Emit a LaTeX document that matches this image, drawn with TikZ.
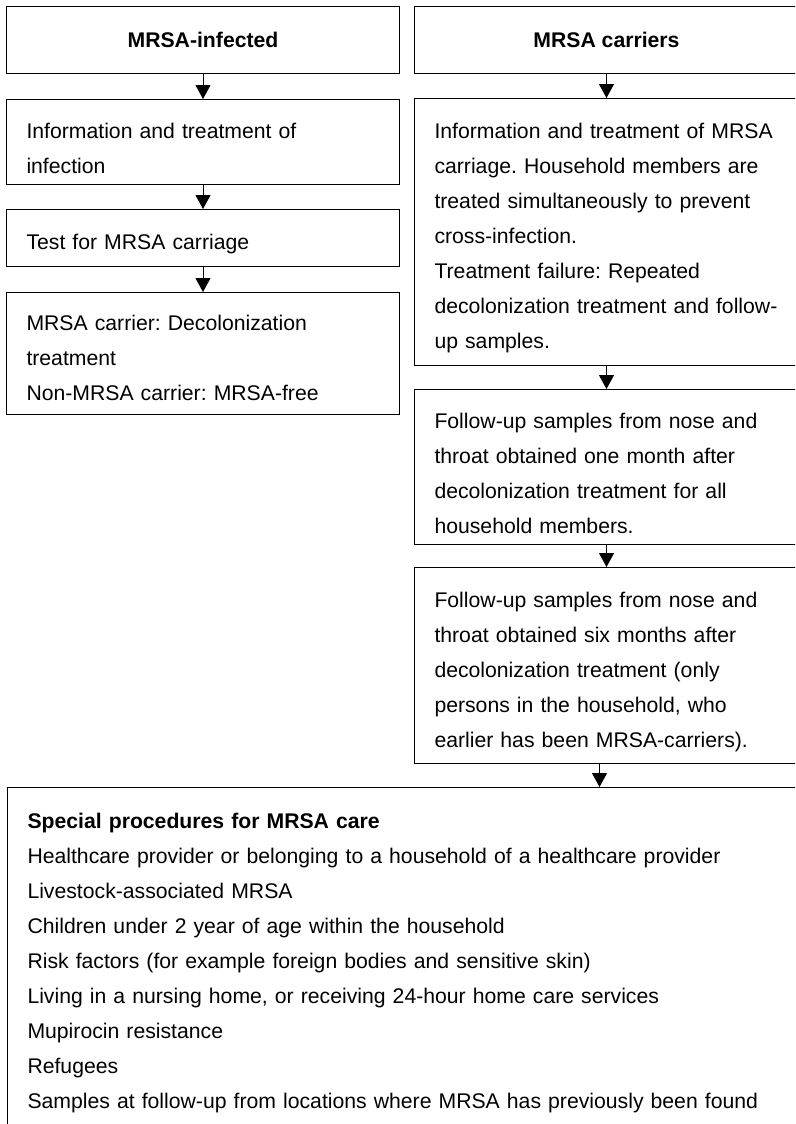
\documentclass[tikz,border=0pt]{standalone}
\usepackage{fontspec}
\setmainfont{Liberation Sans}
\usetikzlibrary{arrows.meta}
\frenchspacing

\begin{document}
\begin{tikzpicture}[x=1pt, y=-1pt,
                    every node/.style={font=\fontsize{21.2}{35}\selectfont},
                    head/.style={draw, line width=1pt, anchor=north west, inner sep=0pt,
                                 minimum height=67pt, font=\fontsize{21.2}{35}\selectfont\bfseries},
                    box/.style={draw, line width=1pt, anchor=north west, inner xsep=20pt,
                                inner ysep=0pt, align=left},
                    lbox/.style={box, text width=353pt},
                    rbox/.style={box, text width=344pt},
                    flow/.style={-{Triangle[length=14pt, width=15pt]}, line width=1pt}]

                            \clip (0,0) rectangle (795,1124);

                            \node[head, minimum width=393pt] (infected) at (6,6) {MRSA-infected};
                            \node[head, minimum width=384pt] (carriers) at (414,6) {MRSA carriers};

                            \node[lbox, text height=39pt, text depth=46pt] (infotreat) at (6,99)
                                {Information and treatment of\\infection};
                            \node[lbox, text height=40pt, text depth=17pt] (testcarr) at (6,209)
                                {Test for MRSA carriage};
                            \node[lbox, text height=38pt, text depth=84pt] (decolon) at (6,292)
                                {MRSA carrier: Decolonization\\treatment\\Non-MRSA carrier: MRSA-free};

                            \node[rbox, text height=40pt, text depth=227pt] (cartreat) at (414,98)
                                {Information and treatment of MRSA\\carriage. Household members are\\treated simultaneously to prevent\\cross-infection.\\Treatment failure: Repeated\\decolonization treatment and follow-\\up samples.};
                            \node[rbox, text height=39pt, text depth=116pt] (followone) at (414,389)
                                {Follow-up samples from nose and\\throat obtained one month after\\decolonization treatment for all\\household members.};
                            \node[rbox, text height=40pt, text depth=156pt] (followsix) at (414,567)
                                {Follow-up samples from nose and\\throat obtained six months after\\decolonization treatment (only\\persons in the household, who\\earlier has been MRSA-carriers).};

                            \node[box, text width=1200pt, text height=41pt, text depth=400pt] (special) at (7,787)
                                {\textbf{Special procedures for MRSA care}\\
                                 Healthcare provider or belonging to a household of a healthcare provider\\
                                 Livestock-associated MRSA\\
                                 Children under 2 year of age within the household\\
                                 Risk factors (for example foreign bodies and sensitive skin)\\
                                 Living in a nursing home, or receiving 24-hour home care services\\
                                 Mupirocin resistance\\
                                 Refugees\\
                                 Samples at follow-up from locations where MRSA has previously been found};

                            \draw[flow] (infected) -- (infotreat);
                            \draw[flow] (infotreat) -- (testcarr);
                            \draw[flow] (testcarr) -- (decolon);
                            \draw[flow] (carriers) -- (cartreat);
                            \draw[flow] (cartreat) -- (followone);
                            \draw[flow] (followone) -- (followsix);
                            \draw[flow] ([xshift=-7pt]followsix.south) -- ([xshift=-7pt]followsix.south |- special.north);
                        \end{tikzpicture}
\end{document}
